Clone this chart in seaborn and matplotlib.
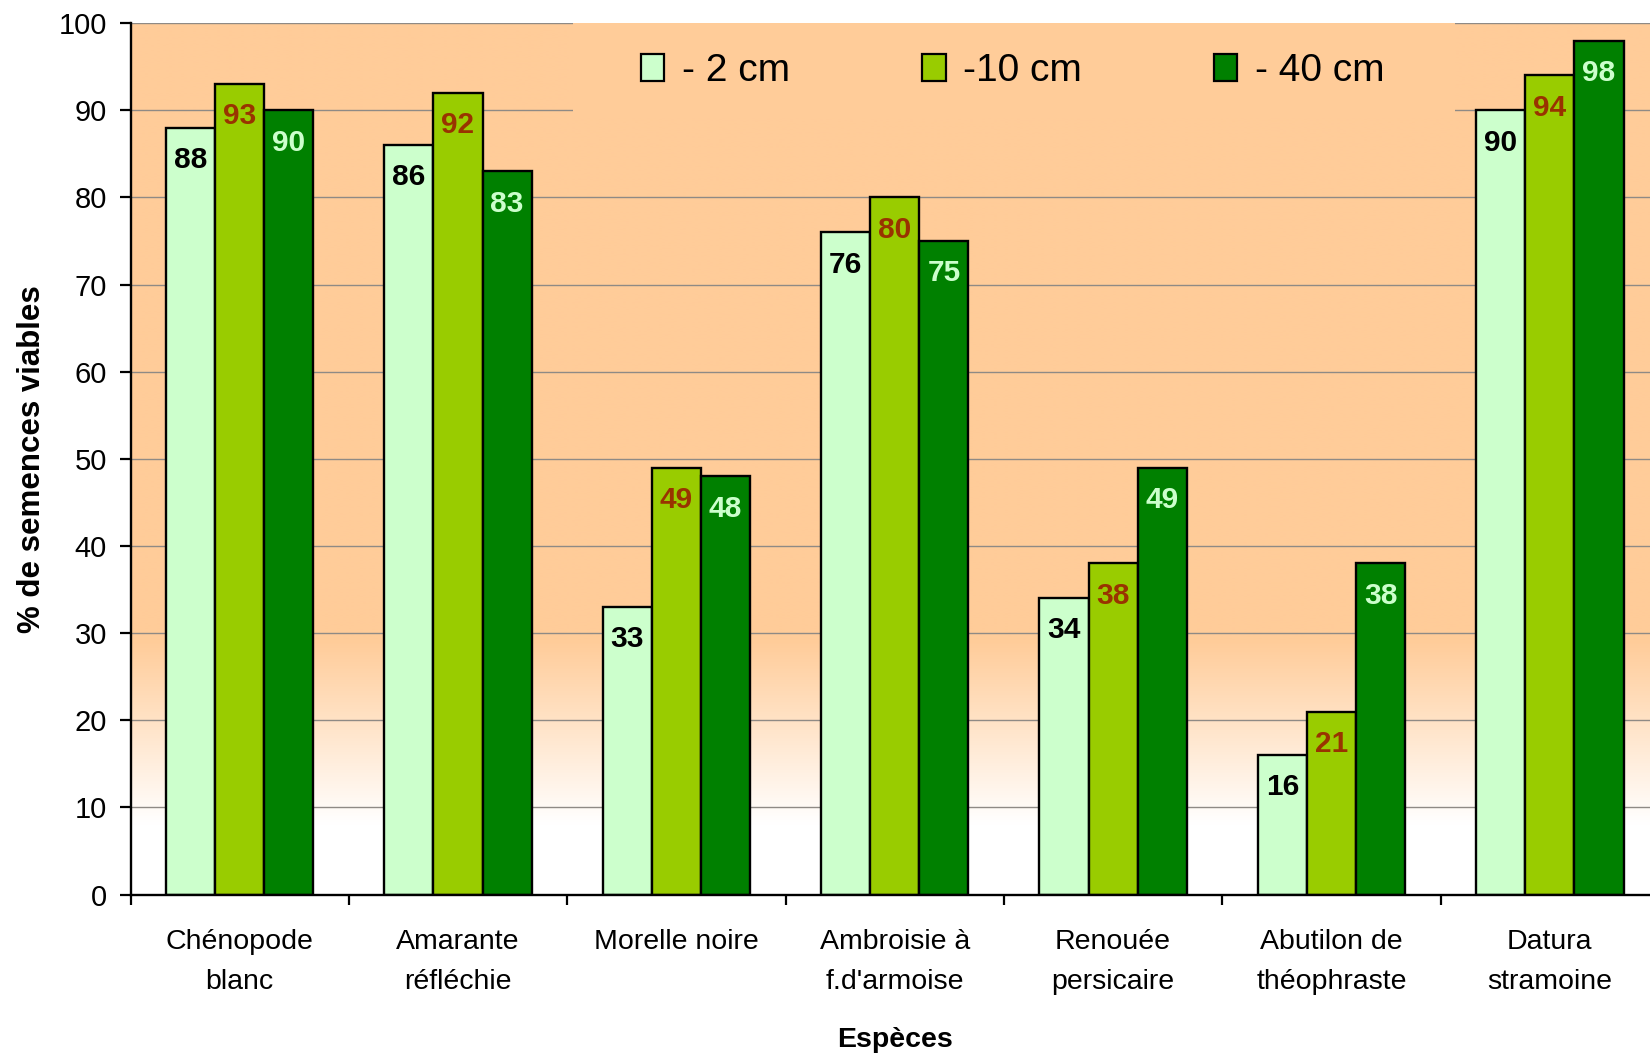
import numpy as np
import pandas as pd
import matplotlib
matplotlib.use("Agg")
import matplotlib.pyplot as plt
from matplotlib.patches import Patch, Rectangle
import seaborn as sns

# Data
especes = ["Chénopode\nblanc", "Amarante\nréfléchie", "Morelle noire",
           "Ambroisie à\nf.d'armoise", "Renouée\npersicaire",
           "Abutilon de\nthéophraste", "Datura\nstramoine"]
profondeurs = ["- 2 cm", "-10 cm", "- 40 cm"]
viables_2cm = [88, 86, 33, 76, 34, 16, 90]
viables_10cm = [93, 92, 49, 80, 38, 21, 94]
viables_40cm = [90, 83, 48, 75, 49, 38, 98]

bar_colors = ["#CCFFCC", "#99CC00", "#008000"]
label_colors = ["#000000", "#993300", "#CCFFCC"]
peach = np.array([255, 204, 153]) / 255.0

df = pd.DataFrame({
    "espece": especes * 3,
    "profondeur": np.repeat(profondeurs, len(especes)),
    "pct": viables_2cm + viables_10cm + viables_40cm,
})

sns.set_theme(style="white")
plt.rcParams["font.family"] = ["Liberation Sans", "DejaVu Sans"]
plt.rcParams.update({
    "text.color": "black",
    "axes.labelcolor": "black",
    "xtick.color": "black",
    "ytick.color": "black",
    "xtick.labelcolor": "black",
    "ytick.labelcolor": "black",
})

fig = plt.figure(figsize=(16.5, 10.54), dpi=100)
ax = fig.add_axes([130.5 / 1650, 1 - 894.5 / 1054, 1528.5 / 1650, 871.3 / 1054])

# Background: peach fading to white near the baseline
yy = np.linspace(0, 100, 500)
t = np.clip((yy - 8) / (29 - 8), 0, 1)
grad = (1 - t)[:, None] * np.ones(3)[None, :] + t[:, None] * peach[None, :]
img = np.repeat(grad[:, None, :], 2, axis=1)
ax.imshow(img, extent=(-0.5, 6.5, 0, 100), origin="lower", aspect="auto",
          zorder=0, interpolation="bilinear")

sns.barplot(data=df, x="espece", y="pct", hue="profondeur",
            palette=bar_colors, width=0.675, saturation=1,
            edgecolor="black", linewidth=1.7, legend=False, ax=ax)

ax.set_xlim(-0.5, 6.5)
ax.set_ylim(0, 100)

# Value labels inside the top of each bar
for cont, col in zip(ax.containers, label_colors):
    for bar in cont:
        h = bar.get_height()
        ax.text(bar.get_x() + bar.get_width() / 2, h - 3.7, f"{h:.0f}",
                ha="center", va="center", color=col, fontsize=21.5,
                fontweight="bold", zorder=5)

# Grid
ax.set_axisbelow(True)
ax.yaxis.grid(True, color="#8f8a85", linewidth=1.0)
ax.xaxis.grid(False)
ax.set_yticks(np.arange(0, 101, 10))

# Spines and ticks
for s in ["top", "right"]:
    ax.spines[s].set_visible(False)
for s in ["left", "bottom"]:
    ax.spines[s].set_color("black")
    ax.spines[s].set_linewidth(1.7)
ax.tick_params(axis="y", which="major", left=True, length=8, width=1.6,
               direction="out", pad=9, labelsize=21, color="black",
               labelcolor="black")
ax.set_xticks(np.arange(len(especes)))
ax.set_xticklabels(especes, fontsize=20.5, linespacing=1.67, color="black")
ax.set_xticks(np.arange(-0.5, len(especes) + 0.5, 1), minor=True)
ax.tick_params(axis="x", which="major", length=0, pad=25, labelcolor="black")
ax.tick_params(axis="x", which="minor", bottom=True, length=7.5, width=1.6,
               direction="out", color="black")

ax.set_ylabel("% de semences viables", fontsize=22.5, fontweight="bold",
              color="black")
ax.yaxis.set_label_coords(-0.0545, 0.5)
ax.set_xlabel("Espèces", fontsize=20.5, fontweight="bold", color="black")
ax.xaxis.set_label_coords(0.5, -0.152)

# Legend box
ax.add_patch(Rectangle((573 / 1650, 1 - 118 / 1054), 882 / 1650, 95 / 1054,
                       transform=fig.transFigure, facecolor=peach,
                       edgecolor="none", zorder=0.8, clip_on=False))
handles = [Patch(facecolor=c, edgecolor="black", linewidth=1.6) for c in bar_colors]
leg = ax.legend(handles, profondeurs, loc="center left",
                bbox_to_anchor=(641 / 1650, 1 - 71 / 1054),
                bbox_transform=fig.transFigure, ncol=3, frameon=False,
                fontsize=28, borderpad=0, borderaxespad=0, handlelength=0.6,
                handleheight=0.7, handletextpad=0.45, columnspacing=3.4)
for txt in leg.get_texts():
    txt.set_color("black")

fig.savefig("out.png", dpi=100)
